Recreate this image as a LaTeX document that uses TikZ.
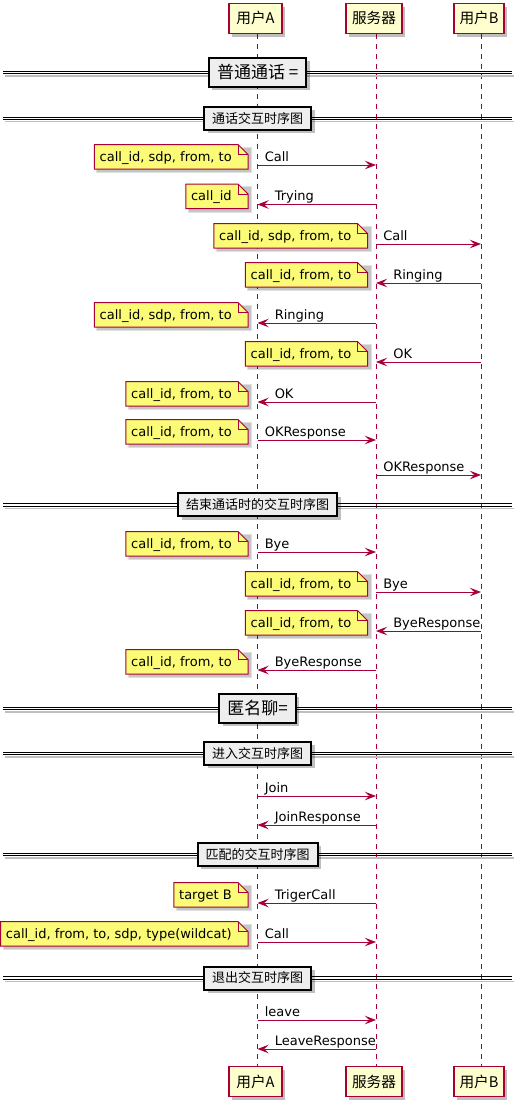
\documentclass[tikz,border=0pt]{standalone}
\usepackage{fontspec}
\setmainfont{DejaVu Sans}
\newfontfamily\cjk{Noto Sans CJK SC}
\usetikzlibrary{arrows.meta,calc,shadows}
\definecolor{pu}{HTML}{A80036}
\definecolor{partfill}{HTML}{FEFECE}
\definecolor{notefill}{HTML}{FBFB77}
\definecolor{divfill}{HTML}{EEEEEE}
\pgfdeclarelayer{back}
\pgfdeclarelayer{notes}
\pgfsetlayers{back,notes,main}
\def\xA{257.5}\def\xS{376}\def\xB{481}
\def\nA{248}\def\nS{367.5}
\newcommand\pumsgR[5]{%
  \coordinate (#1s) at (#2,#4);
  \coordinate (#1e) at (#3,#4);
  \draw[msg] (#1s) -- (#1e);
  \node[lbl, anchor=base west] (#1l) at ($(#1s)+(7,-4)$) {#5};}
\newcommand\pumsgL[5]{%
  \coordinate (#1s) at (#2,#4);
  \coordinate (#1e) at (#3,#4);
  \draw[msg] (#1s) -- (#1e);
  \node[lbl, anchor=base west] (#1l) at ($(#1e)+(17,-4)$) {#5};}
\newcommand\punote[4]{%
  \node[lbl, anchor=base east] (#1) at (#2-16,#3-4) {#4};
  \coordinate (#1tr) at (#2,#3-20.5);
  \coordinate (#1br) at (#2,#3+4);
  \coordinate (#1tz) at (#1.west |- #1tr);
  \coordinate (#1bz) at (#1.west |- #1br);
  \coordinate (#1tl) at ($(#1tz)+(-5,0)$);
  \coordinate (#1bl) at ($(#1bz)+(-5,0)$);
  \begin{pgfonlayer}{notes}
  \fill[black,opacity=0.12] ($(#1tl)+(2,2)$) rectangle ($(#1br)+(4,4)$);
  \fill[black,opacity=0.12] ($(#1tl)+(3,3)$) rectangle ($(#1br)+(3,3)$);
  \filldraw[notebox] (#1bl) -- (#1tl) -- ($(#1tr)+(-10,0)$) -- ($(#1tr)+(0,10)$) -- (#1br) -- cycle;
  \draw[notebox,fill=none] ($(#1tr)+(-10,0)$) -- ($(#1tr)+(-10,10)$) -- ($(#1tr)+(0,10)$);
  \end{pgfonlayer}}
\newcommand\pudiv[4]{%
  \draw[black!25, line width=1pt] (5,#2+3.5) -- (514,#2+3.5);
  \draw[black, line width=0.75pt] (3,#2-1.25) -- (512,#2-1.25) (3,#2+1.25) -- (512,#2+1.25);
  \node[#4] (#1) at (257.7,#2) {#3};}
\tikzset{
  msg/.style={draw=pu, line width=0.75pt, -{Stealth[length=8.5pt,width=6.5pt,inset=3.5pt]}},
  lbl/.style={inner sep=0pt, font=\fontsize{9.75}{11}\selectfont},
  notebox/.style={draw=pu, fill=notefill, line width=0.75pt, line join=miter},
  life/.style={draw=pu, line width=0.75pt, dash pattern=on 3.75pt off 3.75pt},
  pshadow/.style={drop shadow={shadow xshift=2.5pt, shadow yshift=-2.5pt, opacity=0.25, fill=black}},
  part/.style={draw=pu, line width=1.1pt, fill=partfill, minimum height=22.5pt, inner sep=0pt,
    font=\cjk\fontsize{11}{13}\selectfont, pshadow},
  divbox/.style={draw=black, line width=1.5pt, fill=divfill, inner xsep=6pt, inner ysep=0pt,
    minimum height=17.25pt, font=\cjk\fontsize{9.75}{11}\selectfont, pshadow},
  divbig/.style={divbox, minimum height=21.75pt, font=\cjk\fontsize{12.75}{14}\selectfont}
}
\begin{document}
\begin{tikzpicture}[x=0.75pt,y=-0.75pt]
\useasboundingbox (0,0) rectangle (524,1108);
% participants
\node[part, minimum width=39.75pt] (a1) at (255.5,18.3) {用户A};
\node[part, minimum width=42pt] (s1) at (374,18.3) {服务器};
\node[part, minimum width=37.5pt] (b1) at (479,18.3) {用户B};
\node[part, minimum width=39.75pt] (a2) at (255.5,1081.5) {用户A};
\node[part, minimum width=42pt] (s2) at (374,1081.5) {服务器};
\node[part, minimum width=37.5pt] (b2) at (479,1081.5) {用户B};
\coordinate (la) at (\xA,0);
\coordinate (ls) at (\xS,0);
\coordinate (lb) at (\xB,0);
\begin{pgfonlayer}{back}
\draw[life] (a1.south -| la) -- (a2.north -| la);
\draw[life] (s1.south -| ls) -- (s2.north -| ls);
\draw[life] (b1.south -| lb) -- (b2.north -| lb);
\end{pgfonlayer}
% dividers
\pudiv{d1}{72.5}{普通通话 =}{divbig}
\pudiv{d2}{118.3}{通话交互时序图}{divbox}
\pudiv{d3}{504.8}{结束通话时的交互时序图}{divbox}
\pudiv{d4}{708.5}{匿名聊=}{divbig}
\pudiv{d5}{753.5}{进入交互时序图}{divbox}
\pudiv{d6}{854.6}{匹配的交互时序图}{divbox}
\pudiv{d7}{978}{退出交互时序图}{divbox}
% messages
\pumsgR{m1}{\xA}{\xS}{165}{Call}
\punote{n1}{\nA}{165}{call\_id, sdp, from, to}
\pumsgL{m2}{\xS}{\xA}{204.5}{Trying}
\punote{n2}{\nA}{204.5}{call\_id}
\pumsgR{m3}{\xS}{\xB}{244}{Call}
\punote{n3}{\nS}{244}{call\_id, sdp, from, to}
\pumsgL{m4}{\xB}{\xS}{283}{Ringing}
\punote{n4}{\nS}{283}{call\_id, from, to}
\pumsgL{m5}{\xS}{\xA}{323}{Ringing}
\punote{n5}{\nA}{323}{call\_id, sdp, from, to}
\pumsgL{m6}{\xB}{\xS}{362}{OK}
\punote{n6}{\nS}{362}{call\_id, from, to}
\pumsgL{m7}{\xS}{\xA}{402}{OK}
\punote{n7}{\nA}{402}{call\_id, from, to}
\pumsgR{m8}{\xA}{\xS}{440}{OKResponse}
\punote{n8}{\nA}{440}{call\_id, from, to}
\pumsgR{m9}{\xS}{\xB}{475}{OKResponse}
\pumsgR{m10}{\xA}{\xS}{552}{Bye}
\punote{n10}{\nA}{552}{call\_id, from, to}
\pumsgR{m11}{\xS}{\xB}{592}{Bye}
\punote{n11}{\nS}{592}{call\_id, from, to}
\pumsgL{m12}{\xB}{\xS}{631}{ByeResponse}
\punote{n12}{\nS}{631}{call\_id, from, to}
\pumsgL{m13}{\xS}{\xA}{670}{ByeResponse}
\punote{n13}{\nA}{670}{call\_id, from, to}
\pumsgR{m14}{\xA}{\xS}{796}{Join}
\pumsgL{m15}{\xS}{\xA}{825}{JoinResponse}
\pumsgL{m16}{\xS}{\xA}{903}{TrigerCall}
\punote{n16}{\nA}{903}{target B}
\pumsgR{m17}{\xA}{\xS}{942}{Call}
\punote{n17}{\nA}{942}{call\_id, from, to, sdp, type(wildcat)}
\pumsgR{m18}{\xA}{\xS}{1020}{leave}
\pumsgL{m19}{\xS}{\xA}{1049}{LeaveResponse}
\end{tikzpicture}
\end{document}
